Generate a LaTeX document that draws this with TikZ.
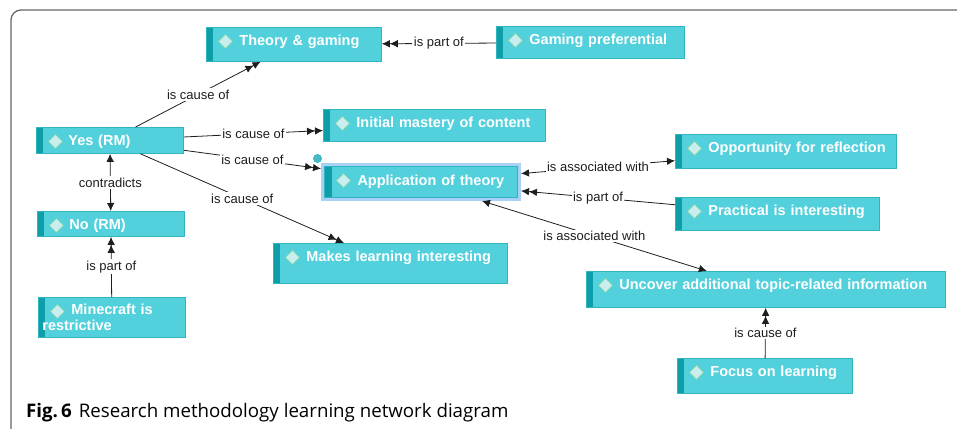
\documentclass[tikz,border=0pt]{standalone}
\usepackage{fontspec}
\setmainfont{Liberation Sans}
\newfontfamily\capfont{Open Sans}
\usetikzlibrary{arrows.meta}

\definecolor{conceptfill}{HTML}{52D0DC}
\definecolor{conceptedge}{HTML}{30B4C0}
\definecolor{stripcol}{HTML}{0E9EA7}
\definecolor{diafill}{HTML}{C8EEF0}
\definecolor{diaedge}{HTML}{8ED8A8}
\definecolor{hilite}{HTML}{A9D0F6}
\definecolor{framecol}{HTML}{666666}
\definecolor{linkcol}{HTML}{1E1E1E}

\begin{document}
\begin{tikzpicture}[x=1pt,y=-1pt,
  concept/.style={anchor=north west,fill=conceptfill,draw=conceptedge,line width=0.8pt,
    inner xsep=0pt,inner ysep=0pt,text height=18.5pt,align=left,text=white,
    font=\fontsize{14.5}{16}\selectfont\bfseries,
    path picture={
      \fill[stripcol] (path picture bounding box.north west) rectangle ([xshift=7pt]path picture bounding box.south west);
      \filldraw[fill=diafill,draw=diaedge,line width=0.7pt] ([shift={(19pt,-14pt)}]path picture bounding box.north west)
        +(-7pt,0pt) -- +(0pt,7pt) -- +(7pt,0pt) -- +(0pt,-7pt) -- cycle;}},
  lbl/.style={fill=white,inner sep=1.5pt,font=\fontsize{13}{15}\selectfont,text=linkcol},
  link/.style={draw=linkcol,line width=0.8pt},
  cause/.style={link,-{Latex[length=8pt,width=7.5pt]Latex[length=8pt,width=7.5pt]}},
  assoc/.style={link,{Latex[length=8pt,width=7.5pt]}-{Latex[length=8pt,width=7.5pt]}}]
\useasboundingbox (0,0) rectangle (957,428);
% frame
\draw[framecol,line width=1.3pt,rounded corners=10pt] (957,10) -- (11,10) -- (11,432);

% concepts
\node[concept,text width=175pt,text depth=15.5pt] (theory) at (206,27) {\hspace*{33pt}Theory \& gaming};
\node[concept,text width=188pt,text depth=13.5pt] (gaming) at (496,26) {\hspace*{33pt}Gaming preferential};
\node[concept,text width=222pt,text depth=13.5pt] (initial) at (323,109) {\hspace*{33pt}Initial mastery of content};
\node[concept,text width=147pt,text depth=7.5pt] (yes) at (36,127) {\hspace*{32pt}Yes (RM)};
\node[concept,text width=193pt,text depth=12.5pt,outer sep=3.5pt,
  preaction={draw=hilite,line width=7pt,rounded corners=2pt}] (app) at (321,163) {\hspace*{33pt}Application of theory};
\node[concept,text width=221pt,text depth=15.5pt] (opp) at (675,134) {\hspace*{33pt}Opportunity for reflection};
\node[concept,text width=204pt,text depth=14.5pt] (pract) at (675,197) {\hspace*{33pt}Practical is interesting};
\node[concept,text width=147pt,text depth=6.5pt] (no) at (37,211) {\hspace*{32pt}No (RM)};
\node[concept,text width=234pt,text depth=21.5pt] (makes) at (273,243) {\hspace*{33pt}Makes learning interesting};
\node[concept,text width=147pt,text height=17pt,text depth=23pt] (mine) at (38,297) {\hspace*{33pt}Minecraft is\\\hspace*{4pt}restrictive};
\node[concept,text width=359pt,text depth=17.5pt] (uncover) at (586,271) {\hspace*{33pt}Uncover additional topic-related information};
\node[concept,text width=175pt,text depth=16.5pt] (focus) at (677,358) {\hspace*{33pt}Focus on learning};

% selection handle
\filldraw[fill=conceptfill!90!black,draw=conceptedge,line width=0.8pt] ([shift={(-3.5pt,4.5pt)}]app.north west) circle (4pt);

% links
\draw[cause] (yes) -- node[lbl] {is cause of} (theory);
\draw[cause] (gaming) -- node[lbl] {is part of} (theory);
\draw[cause] (yes) -- node[lbl] {is cause of} (initial);
\draw[cause] (yes) -- node[lbl] {is cause of} (app);
\draw[cause] (yes) -- node[lbl] {is cause of} (makes);
\draw[assoc] (yes) -- node[lbl] {contradicts} (no);
\draw[cause] (mine) -- node[lbl] {is part of} (no);
\draw[assoc] (app) -- node[lbl] {is associated with} (opp);
\draw[cause] (pract) -- node[lbl] {is part of} (app);
\draw[assoc] (app) -- node[lbl] {is associated with} (uncover);
\draw[cause] (focus) -- node[lbl] {is cause of} (uncover);

% caption
\node[anchor=base west,inner sep=0pt,font=\capfont\fontsize{18.7}{21}\selectfont] (caption) at (26,417)
  {\textbf{Fig.\,6}\hspace{7pt}Research methodology learning network diagram};
\end{tikzpicture}
\end{document}
